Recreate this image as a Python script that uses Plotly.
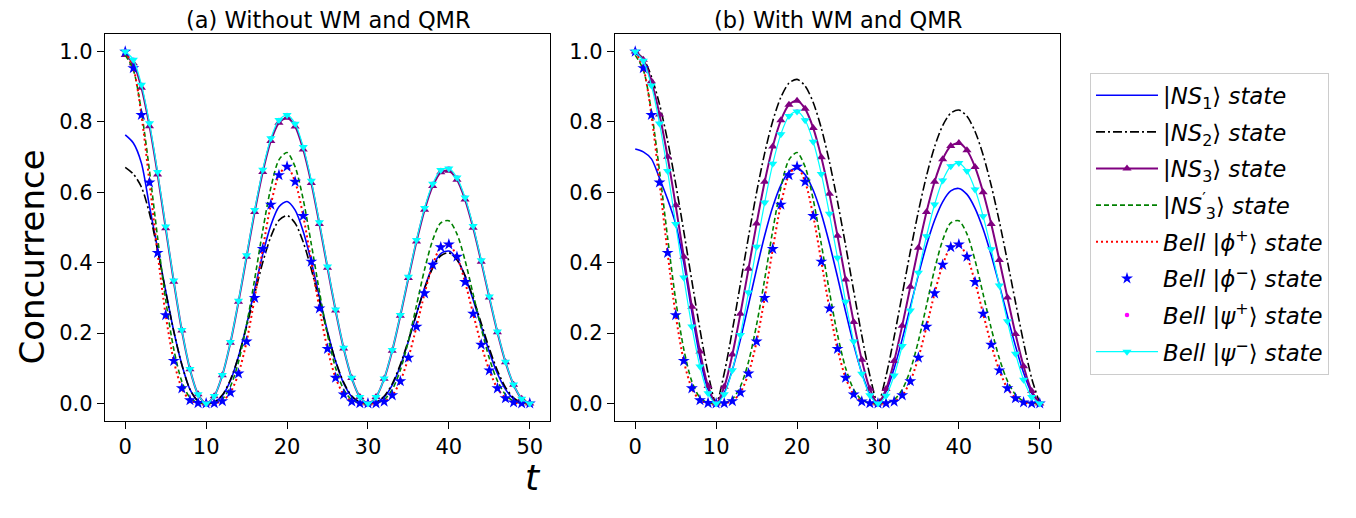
import plotly.graph_objects as go

t = list(range(51))

# ---------- panel (a): without WM and QMR ----------
a_ns1 = [0.763, 0.74, 0.683, 0.56, 0.44, 0.32, 0.205, 0.11, 0.04, 0.007, 0.0,
         0.0033, 0.0219, 0.0646, 0.1332, 0.2234, 0.3249, 0.424, 0.5062, 0.5589, 0.574,
         0.5493, 0.4889, 0.4024, 0.303, 0.2047, 0.12, 0.0572, 0.0191, 0.0028, 0.0,
         0.0027, 0.0177, 0.0519, 0.1061, 0.1764, 0.2543, 0.329, 0.3892, 0.4257, 0.433,
         0.4103, 0.3615, 0.2944, 0.2193, 0.1465, 0.0849, 0.04, 0.0132, 0.0019, 0.0]
a_ns2 = [0.671, 0.652, 0.615, 0.54, 0.435, 0.318, 0.205, 0.11, 0.04, 0.007, 0.0,
         0.0038, 0.0239, 0.0671, 0.1336, 0.2183, 0.3115, 0.4009, 0.4742, 0.5208, 0.534,
         0.5121, 0.4585, 0.3811, 0.2912, 0.2007, 0.1208, 0.0596, 0.0209, 0.0033, 0.0,
         0.0032, 0.02, 0.0557, 0.1105, 0.1797, 0.2551, 0.3266, 0.3843, 0.4197, 0.428,
         0.4081, 0.3633, 0.3002, 0.228, 0.1561, 0.0934, 0.0458, 0.016, 0.0025, 0.0]
a_ns3 = [0.99, 0.967, 0.897, 0.788, 0.651, 0.498, 0.346, 0.207, 0.097, 0.026, 0.0,
         0.0206, 0.080, 0.1727, 0.2887, 0.4168, 0.5443, 0.6579, 0.746, 0.7977, 0.812,
         0.7871, 0.7217, 0.6264, 0.51, 0.3856, 0.264, 0.1563, 0.0719, 0.0183, 0.0,
         0.018, 0.07, 0.15, 0.249, 0.3564, 0.46, 0.5501, 0.6179, 0.6568, 0.6613,
         0.6355, 0.5793, 0.4991, 0.403, 0.301, 0.2025, 0.1173, 0.053, 0.0132, 0.0]
a_ns3p = [0.99, 0.948, 0.8305, 0.661, 0.4715, 0.2943, 0.1541, 0.0624, 0.0162, 0.0015, 0.0,
          0.0012, 0.0126, 0.0481, 0.118, 0.2237, 0.3534, 0.4921, 0.6133, 0.6923, 0.713,
          0.6722, 0.5797, 0.4527, 0.3181, 0.1953, 0.1007, 0.0401, 0.0103, 0.0009, 0.0,
          0.001, 0.0103, 0.0391, 0.0947, 0.1775, 0.2786, 0.381, 0.4642, 0.5133, 0.519,
          0.4817, 0.4065, 0.3105, 0.2134, 0.128, 0.0643, 0.025, 0.0062, 0.0005, 0.0]
a_phi = [1.0, 0.953, 0.82, 0.628, 0.428, 0.251, 0.121, 0.043, 0.009, 0.001, 0.0,
         0.0004, 0.0066, 0.031, 0.085, 0.176, 0.30, 0.439, 0.565, 0.649, 0.673,
         0.63, 0.533, 0.403, 0.27, 0.155, 0.073, 0.0255, 0.0054, 0.0004, 0.0,
         0.0003, 0.005, 0.023, 0.063, 0.13, 0.218, 0.313, 0.394, 0.444, 0.452,
         0.417, 0.345, 0.255, 0.167, 0.094, 0.043, 0.0147, 0.003, 0.0002, 0.0]
a_psi = [1.0, 0.977, 0.906, 0.796, 0.658, 0.503, 0.349, 0.209, 0.098, 0.026, 0.0,
         0.0208, 0.081, 0.1744, 0.2916, 0.421, 0.5498, 0.6645, 0.7535, 0.8058, 0.82,
         0.7951, 0.729, 0.6327, 0.5151, 0.3895, 0.2667, 0.1579, 0.0726, 0.0185, 0.0,
         0.0182, 0.0707, 0.1515, 0.2515, 0.36, 0.4647, 0.5557, 0.6241, 0.6634, 0.668,
         0.6419, 0.5852, 0.5041, 0.4071, 0.304, 0.2045, 0.1185, 0.0535, 0.0133, 0.0]

# ---------- panel (b): with WM and QMR ----------
b_ns1 = [0.723, 0.715, 0.695, 0.64, 0.58, 0.51, 0.40, 0.26, 0.13, 0.04, 0.0,
         0.0301, 0.0951, 0.1818, 0.2804, 0.3817, 0.4771, 0.5589, 0.6207, 0.658, 0.668,
         0.6502, 0.606, 0.5391, 0.4547, 0.3595, 0.2609, 0.1672, 0.0864, 0.027, 0.0,
         0.0337, 0.0994, 0.1826, 0.2739, 0.3653, 0.4495, 0.5205, 0.5731, 0.6039, 0.611,
         0.5941, 0.5546, 0.4955, 0.421, 0.3366, 0.2483, 0.1628, 0.0872, 0.0291, 0.0]
b_ns2 = [1.0, 0.9801, 0.9294, 0.8504, 0.747, 0.6245, 0.4891, 0.3482, 0.2103, 0.0865, 0.0,
         0.0858, 0.207, 0.34, 0.4736, 0.5997, 0.7114, 0.803, 0.8703, 0.9102, 0.921,
         0.9023, 0.8553, 0.7824, 0.6871, 0.5742, 0.4495, 0.3199, 0.1931, 0.0794, 0.0,
         0.0784, 0.189, 0.31, 0.4315, 0.5458, 0.6468, 0.7294, 0.7898, 0.8251, 0.834,
         0.8162, 0.7729, 0.7062, 0.6195, 0.5172, 0.4044, 0.2875, 0.1734, 0.0712, 0.0]
b_ns3 = [1.0, 0.9765, 0.9155, 0.8214, 0.701, 0.5629, 0.4171, 0.2747, 0.1479, 0.0496, 0.0,
         0.047, 0.1387, 0.255, 0.3829, 0.5112, 0.6298, 0.73, 0.8047, 0.849, 0.86,
         0.8372, 0.7826, 0.70, 0.5956, 0.4767, 0.3521, 0.2312, 0.124, 0.0414, 0.0,
         0.0408, 0.1204, 0.221, 0.3316, 0.4422, 0.5443, 0.6302, 0.694, 0.7314, 0.74,
         0.7196, 0.6718, 0.6003, 0.5101, 0.4078, 0.3008, 0.1973, 0.1057, 0.0353, 0.0]
b_ns3p = list(a_ns3p)
b_phi = list(a_phi)
b_psi = [1.0, 0.9738, 0.9036, 0.7959, 0.6605, 0.5099, 0.3578, 0.2183, 0.1048, 0.0287, 0.0,
         0.026, 0.0943, 0.1945, 0.3155, 0.4452, 0.5709, 0.681, 0.7654, 0.8166, 0.83,
         0.8048, 0.7436, 0.6521, 0.5388, 0.4141, 0.2893, 0.1757, 0.084, 0.0229, 0.0,
         0.022, 0.0794, 0.1633, 0.2642, 0.3717, 0.4753, 0.5654, 0.6336, 0.674, 0.683,
         0.6603, 0.6082, 0.5317, 0.4379, 0.3354, 0.2335, 0.1414, 0.0673, 0.0183, 0.0]

names = [
    "|<i>NS</i><sub>1</sub>⟩ <i>state</i>",
    "|<i>NS</i><sub>2</sub>⟩ <i>state</i>",
    "|<i>NS</i><sub>3</sub>⟩ <i>state</i>",
    "|<i>NS</i><sup>′</sup><sub>3</sub>⟩ <i>state</i>",
    "<i>Bell</i> |<i>ϕ</i><sup>+</sup>⟩ <i>state</i>",
    "<i>Bell</i> |<i>ϕ</i><sup>−</sup>⟩ <i>state</i>",
    "<i>Bell</i> |<i>ψ</i><sup>+</sup>⟩ <i>state</i>",
    "<i>Bell</i> |<i>ψ</i><sup>−</sup>⟩ <i>state</i>",
]

panels = [
    (a_ns1, a_ns2, a_ns3, a_ns3p, a_phi, a_phi, a_psi, a_psi),
    (b_ns1, b_ns2, b_ns3, b_ns3p, b_phi, b_phi, b_psi, b_psi),
]

styles = [
    dict(mode="lines", line=dict(color="#0000ff", width=1.6)),
    dict(mode="lines", line=dict(color="#000000", width=1.6, dash="9px,3px,2px,3px")),
    dict(mode="lines+markers", line=dict(color="#800080", width=2),
         marker=dict(symbol="triangle-up", size=8, color="#800080")),
    dict(mode="lines", line=dict(color="#008000", width=1.6, dash="5px,3px")),
    dict(mode="lines", line=dict(color="#ff0000", width=2, dash="2px,3px")),
    dict(mode="markers", marker=dict(symbol="star", size=9, color="#0000ff")),
    dict(mode="markers", marker=dict(symbol="circle", size=4.5, color="#ff00ff")),
    dict(mode="lines+markers", line=dict(color="#00ffff", width=1.2),
         marker=dict(symbol="triangle-down", size=8, color="#00ffff")),
]

fig = go.Figure()
for p, series in enumerate(panels):
    xa = "x" if p == 0 else "x2"
    ya = "y" if p == 0 else "y2"
    for i, ys in enumerate(series):
        st = styles[i]
        kw = dict(x=t, y=ys, xaxis=xa, yaxis=ya, name=names[i],
                  legendgroup="g%d" % i, showlegend=(p == 0), mode=st["mode"])
        if "line" in st:
            kw["line"] = dict(st["line"], shape="spline", smoothing=0.8)
        if "marker" in st:
            kw["marker"] = st["marker"]
        fig.add_trace(go.Scatter(**kw))

axis_common = dict(
    range=[-2.5, 52.5], showline=True, linecolor="black", linewidth=1.3, mirror=True,
    ticks="outside", ticklen=7, tickwidth=1.3, tickcolor="black",
    showgrid=False, zeroline=False, tickvals=[0, 10, 20, 30, 40, 50],
    tickfont=dict(family="DejaVu Sans", size=21, color="black"),
)
yaxis_common = dict(
    range=[-0.05, 1.05], showline=True, linecolor="black", linewidth=1.3, mirror=True,
    ticks="outside", ticklen=7, tickwidth=1.3, tickcolor="black",
    showgrid=False, zeroline=False, tickvals=[0, 0.2, 0.4, 0.6, 0.8, 1.0],
    tickformat=".1f", tickfont=dict(family="DejaVu Sans", size=21, color="black"),
)

# the page shifts the figure slightly; figure pixel = screen pixel - offset
OFFX, OFFY = 6, 6.5
W, H = 1342, 505
L, T = 103 - OFFX, 32 - OFFY
R = W - (1058 - OFFX)
B = H - (420 - OFFY)
pw = W - L - R
ph = H - T - B


def px(xs):  # screen x -> paper x
    return (xs - OFFX - L) / pw


def py(ys):  # screen y -> paper y
    return (H - B - (ys - OFFY)) / ph


fig.update_layout(
    width=W, height=H,
    margin=dict(l=L, r=R, t=T, b=B, pad=0, autoexpand=False),
    paper_bgcolor="white", plot_bgcolor="white",
    xaxis=dict(axis_common, domain=[0, 445 / pw], anchor="y", automargin=False),
    yaxis=dict(yaxis_common, domain=[0, 1], anchor="x", automargin=False),
    xaxis2=dict(axis_common, domain=[510 / pw, 1], anchor="y2", automargin=False),
    yaxis2=dict(yaxis_common, domain=[0, 1], anchor="x2", automargin=False),
    legend=dict(
        x=px(1088), y=py(71), xanchor="left", yanchor="top",
        bordercolor="#cccccc", borderwidth=1, bgcolor="white",
        font=dict(family="DejaVu Sans", size=22.8, color="black"),
        tracegroupgap=4, itemwidth=62,
    ),
    font=dict(family="DejaVu Sans", color="black"),
    annotations=[
        dict(text="(a) Without WM and QMR", x=px(326), y=py(18),
             xref="paper", yref="paper", showarrow=False, xanchor="center", yanchor="middle",
             font=dict(family="DejaVu Sans", size=22.5, color="black")),
        dict(text="(b) With WM and QMR", x=px(836), y=py(18),
             xref="paper", yref="paper", showarrow=False, xanchor="center", yanchor="middle",
             font=dict(family="DejaVu Sans", size=22.5, color="black")),
        dict(text="Concurrence", x=px(30), y=py(256), textangle=-90,
             xref="paper", yref="paper", showarrow=False, xanchor="center", yanchor="middle",
             font=dict(family="DejaVu Sans", size=34, color="black")),
        dict(text="<i>t</i>", x=px(531), y=py(477),
             xref="paper", yref="paper", showarrow=False, xanchor="center", yanchor="middle",
             font=dict(family="DejaVu Sans", size=36, color="black")),
    ],
)

fig.write_html("out.html")
